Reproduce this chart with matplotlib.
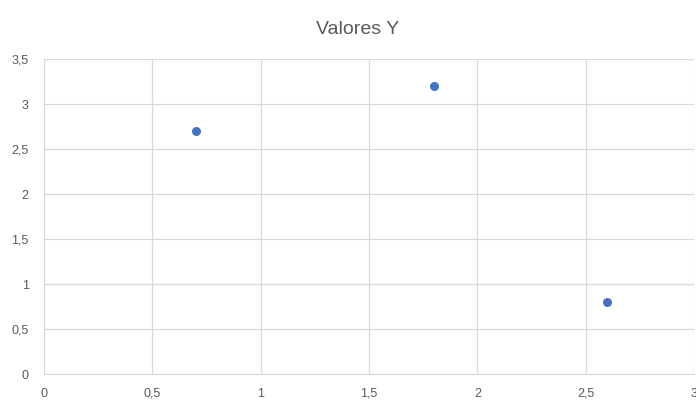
import matplotlib.pyplot as plt
from matplotlib.ticker import FuncFormatter, MultipleLocator

# Dados
valores_x = [0.7, 1.8, 2.6]
valores_y = [2.7, 3.2, 0.8]
titulo = "Valores Y"

plt.rcParams['font.family'] = ['Liberation Sans', 'DejaVu Sans']

fig = plt.figure(figsize=(6.96, 4.01), dpi=100)
ax = fig.add_axes([0.0632, 0.0673, 0.934, 0.7855])

ax.scatter(valores_x, valores_y, s=42, color='#4472c4', zorder=3, linewidths=0)

ax.set_xlim(0, 3)
ax.set_ylim(0, 3.5)
ax.xaxis.set_major_locator(MultipleLocator(0.5))
ax.yaxis.set_major_locator(MultipleLocator(0.5))

virgula = FuncFormatter(lambda v, pos: f"{v:g}".replace('.', ','))
ax.xaxis.set_major_formatter(virgula)
ax.yaxis.set_major_formatter(virgula)

ax.grid(True, color='#d9d9d9', linewidth=0.9)
ax.set_axisbelow(True)
for lado in ['top', 'right', 'left']:
    ax.spines[lado].set_visible(False)
ax.spines['bottom'].set_color('#d9d9d9')
ax.tick_params(length=0, labelsize=9, labelcolor='#595959')
ax.tick_params(axis='x', pad=10)
ax.tick_params(axis='y', pad=11)

fig.text(0.514, 0.926, titulo, ha='center', va='center', fontsize=14, color='#595959')

fig.savefig('out.png', dpi=100)
